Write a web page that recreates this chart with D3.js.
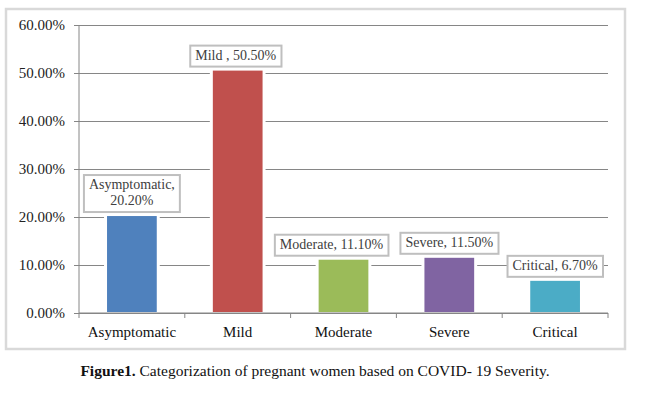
<!DOCTYPE html>
<html>
<head>
<meta charset="utf-8">
<script src="https://cdn.jsdelivr.net/npm/d3@7"></script>
<style>
  body { margin: 0; background: #fff; }
  svg text { font-family: "Liberation Serif", "Times New Roman", serif; }
</style>
</head>
<body>
<div id="chart"></div>
<script>
// chart values
const categories = ["Asymptomatic", "Mild", "Moderate", "Severe", "Critical"];
const shares = [20.2, 50.5, 11.1, 11.5, 6.7];
const barColors = ["#4f81bd", "#c0504d", "#9bbb59", "#8064a2", "#4bacc6"];
const labelLines = [
    ["Asymptomatic,", "20.20%"],
    ["Mild , 50.50%"],
    ["Moderate, 11.10%"],
    ["Severe, 11.50%"],
    ["Critical, 6.70%"]
];
const yTicks = [0, 10, 20, 30, 40, 50, 60];

const W = 661, H = 393;
const plot = {left: 79, right: 608, top: 25, bottom: 313};
// horizontal nudge of the label boxes (the Moderate one sits left of its bar)
const labelNudge = [0, -2, -12, 0, 0];

const svg = d3.select("#chart").append("svg")
    .attr("width", W)
    .attr("height", H);

// outer frame
svg.append("rect")
    .attr("x", 6).attr("y", 9)
    .attr("width", 619).attr("height", 340)
    .attr("fill", "#fff")
    .attr("stroke", "#d9d9d9")
    .attr("stroke-width", 2.5);

// scales
let x = d3.scaleBand()
    .domain(categories)
    .range([plot.left, plot.right])
    .padding(0);

let y = d3.scaleLinear()
    .domain([0, 60])
    .range([plot.bottom, plot.top]);

let barW = x.bandwidth() * 0.47;

// gridlines + y labels
let yAxis = d3.axisLeft(y)
    .tickValues(yTicks)
    .tickSize(-(plot.right - plot.left))
    .tickPadding(14)
    .tickFormat(d => d.toFixed(2) + "%");

let yg = svg.append("g")
    .attr("class", "y-axis")
    .attr("transform", `translate(${plot.left},0)`)
    .call(yAxis);
yg.select(".domain").remove();
yg.selectAll(".tick line")
    .attr("x1", -5)
    .attr("stroke", "#868686")
    .attr("stroke-width", 1);
yg.selectAll(".tick text")
    .attr("fill", "#222")
    .style("font-size", "15px");

// left axis line
svg.append("line")
    .attr("x1", plot.left).attr("x2", plot.left)
    .attr("y1", plot.top).attr("y2", plot.bottom)
    .attr("stroke", "#868686");

// bars (white halo first to break the gridlines like the original)
let bars = svg.append("g").attr("class", "bars");
bars.selectAll(".halo")
    .data(shares)
    .enter()
    .append("rect")
    .attr("class", "halo")
    .attr("x", (d, i) => x(categories[i]) + (x.bandwidth() - barW) / 2 - 3)
    .attr("y", d => y(d) - 2)
    .attr("width", barW + 6)
    .attr("height", d => y(0) - y(d) + 1)
    .attr("fill", "#fff");

bars.selectAll(".bar")
    .data(shares)
    .enter()
    .append("rect")
    .attr("class", "bar")
    .attr("x", (d, i) => x(categories[i]) + (x.bandwidth() - barW) / 2)
    .attr("y", d => y(d))
    .attr("width", barW)
    .attr("height", d => y(0) - y(d) - 1)
    .attr("fill", (d, i) => barColors[i]);

// x axis with ticks at the category boundaries
let xg = svg.append("g").attr("class", "x-axis");
xg.append("line")
    .attr("x1", plot.left).attr("x2", plot.right)
    .attr("y1", plot.bottom).attr("y2", plot.bottom)
    .attr("stroke", "#868686");
let bounds = categories.map(c => x(c)).concat([plot.right]);
xg.selectAll(".xtick")
    .data(bounds)
    .enter()
    .append("line")
    .attr("x1", d => d).attr("x2", d => d)
    .attr("y1", plot.bottom).attr("y2", plot.bottom + 5)
    .attr("stroke", "#868686");
xg.selectAll(".xlabel")
    .data(categories)
    .enter()
    .append("text")
    .attr("x", d => x(d) + x.bandwidth() / 2)
    .attr("y", 337)
    .attr("text-anchor", "middle")
    .attr("fill", "#111")
    .style("font-size", "15px")
    .text(d => d);

// data labels in boxes
let labels = svg.append("g").attr("class", "labels");
labelLines.forEach((lines, i) => {
    let cx = x(categories[i]) + x.bandwidth() / 2 + labelNudge[i];
    let bottom = y(shares[i]) - 4;
    let lineH = 16;
    let g = labels.append("g");
    let box = g.append("rect")
        .attr("fill", "#fff")
        .attr("stroke", "#bfbfbf")
        .attr("stroke-width", 2);
    let t = g.append("text")
        .attr("text-anchor", "middle")
        .attr("fill", "#404040")
        .style("font-size", "14px");
    lines.forEach((ln, j) => {
        t.append("tspan")
            .attr("x", cx)
            .attr("y", bottom - 7 - (lines.length - 1 - j) * lineH)
            .text(ln);
    });
    let bb = t.node().getBBox();
    box.attr("x", bb.x - 5)
        .attr("y", bottom - (lines.length * lineH) - 5)
        .attr("width", bb.width + 10)
        .attr("height", lines.length * lineH + 5);
});

// caption
let cap = svg.append("text")
    .attr("x", 315)
    .attr("y", 376)
    .attr("text-anchor", "middle")
    .attr("fill", "#111")
    .style("font-size", "15.5px");
cap.append("tspan").attr("font-weight", "bold").text("Figure1. ");
cap.append("tspan").text("Categorization of pregnant women based on COVID- 19 Severity.");
</script>
</body>
</html>
